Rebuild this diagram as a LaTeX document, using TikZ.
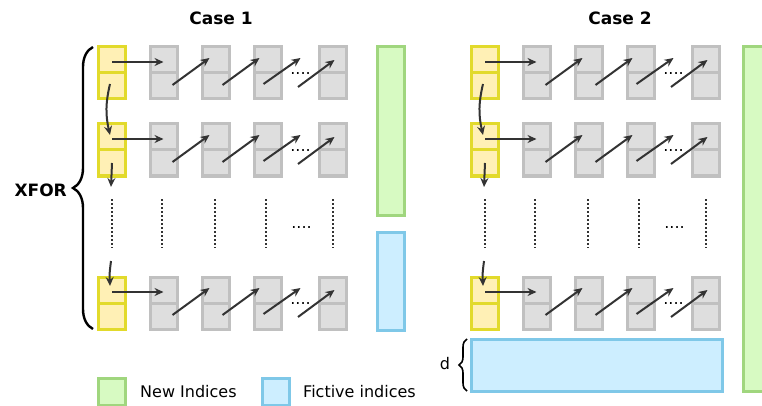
\documentclass[tikz,border=0pt]{standalone}
\usepackage{fontspec}
\setmainfont{DejaVu Sans}
\usetikzlibrary{calc,arrows.meta,decorations.pathreplacing}
\definecolor{yfill}{HTML}{FFF0B5}
\definecolor{yline}{HTML}{E2DA2B}
\definecolor{gfill}{HTML}{DEDEDE}
\definecolor{gline}{HTML}{C0C0C0}
\definecolor{nfill}{HTML}{D7FAC2}
\definecolor{nline}{HTML}{A0D67E}
\definecolor{bfill}{HTML}{CDEEFF}
\definecolor{bline}{HTML}{7FC8E8}
\definecolor{arrc}{HTML}{333333}
\tikzset{
  ycell/.style={draw=yline,fill=yfill,line width=3pt,minimum width=27pt,minimum height=52pt,inner sep=0pt,outer sep=0pt},
  gcell/.style={draw=gline,fill=gfill,line width=3pt,minimum width=27pt,minimum height=52pt,inner sep=0pt,outer sep=0pt},
  newbar/.style={draw=nline,fill=nfill,line width=3pt,inner sep=0pt,outer sep=0pt},
  fictbar/.style={draw=bline,fill=bfill,line width=3pt,inner sep=0pt,outer sep=0pt},
  arr/.style={draw=arrc,line width=2pt,-{Stealth[length=9pt,width=8pt,inset=3pt]}},
  vdots/.style={draw=arrc,line width=2.6pt,dash pattern=on 2pt off 2pt},
  txt/.style={font=\fontsize{16}{19}\selectfont,inner sep=0pt},
  ttl/.style={font=\fontsize{17}{20}\selectfont\bfseries,inner sep=0pt},
}
\begin{document}
\begin{tikzpicture}[x=1pt,y=-1pt]
\useasboundingbox (0,0) rectangle (762,406);
\clip (0,0) rectangle (762,406);

\node[ttl] (t1) at (221,18) {Case 1};
\node[ttl] (t2) at (620,18) {Case 2};

\foreach \cs/\dx in {1/0,2/373} {
  \foreach \r/\t in {1/47,2/124,3/277} {
    \node[ycell] (y\cs\r) at (111.5+\dx,\t+26) {};
    \draw[draw=yline,line width=3pt] (y\cs\r.west) -- (y\cs\r.east);
    \foreach \k/\xl in {1/150,2/202,3/254,4/319} {
      \node[gcell] (g\cs\r\k) at (\xl+13.5+\dx,\t+26) {};
      \draw[draw=gline,line width=3pt] (g\cs\r\k.west) -- (g\cs\r\k.east);
    }
    \draw[arr] ($(y\cs\r.center)+(0.5,-11)$) -- ($(g\cs\r1.center)+(0,-11)$);
    \draw[arr] ($(g\cs\r1.center)+(9,12)$) -- ($(g\cs\r2.center)+(-6,-15)$);
    \draw[arr] ($(g\cs\r2.center)+(7,12)$) -- ($(g\cs\r3.center)+(-8,-15)$);
    \draw[arr] ($(g\cs\r3.center)+(-4,11)$) -- ($(g\cs\r3.center)+(33,-15)$);
    \draw[arr] ($(g\cs\r4.center)+(-34.5,14)$) -- ($(g\cs\r4.center)+(2,-13)$);
    \node[txt,anchor=base] (dd\cs\r) at ($(g\cs\r4.center)+(-32,1.5)$) {....};
  }
  % vertical arrows in yellow column
  \draw[arr] ($(y\cs1.center)+(-1.5,11)$) .. controls ($(y\cs1.center)+(-6,30)$) and ($(y\cs2.center)+(-6,-35)$) .. ($(y\cs2.center)+(-1.5,-15)$);
  \draw[arr] ($(y\cs2.center)+(0.5,13)$) -- ($(y\cs2.center)+(-0.5,37)$);
  \draw[arr] ($(y\cs3.center)+(-0.5,-42)$) .. controls ($(y\cs3.center)+(-2,-30)$) .. ($(y\cs3.center)+(-1.5,-17)$);
  % dotted continuation
  \foreach \xd in {112,162,215,266,333} {
    \coordinate (va\cs\xd) at (\xd+\dx,199);
    \coordinate (vb\cs\xd) at (\xd+\dx,248);
    \draw[vdots] (va\cs\xd) -- (vb\cs\xd);
  }
  \node[txt,anchor=base] (md\cs) at (301.5+\dx,228) {....};
}

% side bars case 1
\node[newbar,minimum width=27pt,minimum height=168pt] (nb1) at (390.5,131) {};
\node[fictbar,minimum width=27pt,minimum height=98pt] (fb1) at (390.5,281) {};
% side bars case 2
\node[newbar,minimum width=27pt,minimum height=344pt] (nb2) at (756.5,219) {};
\node[fictbar,minimum width=251pt,minimum height=52pt] (fb2) at (596.5,365) {};

% braces
\coordinate (bra) at (93,329);
\coordinate (brb) at (93,47);
\draw[line width=2.4pt,decorate,decoration={brace,amplitude=20pt}] (bra) -- (brb);
\node[ttl,anchor=east] (xfor) at (67,190) {XFOR};
\coordinate (bda) at (467,391);
\coordinate (bdb) at (467,339);
\draw[line width=1.6pt,decorate,decoration={brace,amplitude=8pt}] (bda) -- (bdb);
\node[txt] (dl) at (445,364) {d};

% legend
\node[newbar,minimum width=27pt,minimum height=27pt] (lg1) at (111.5,391.5) {};
\node[txt,anchor=west] (lt1) at (140,392) {New Indices};
\node[fictbar,minimum width=27pt,minimum height=27pt] (lg2) at (275.5,391.5) {};
\node[txt,anchor=west] (lt2) at (303,392) {Fictive indices};
\end{tikzpicture}
\end{document}
